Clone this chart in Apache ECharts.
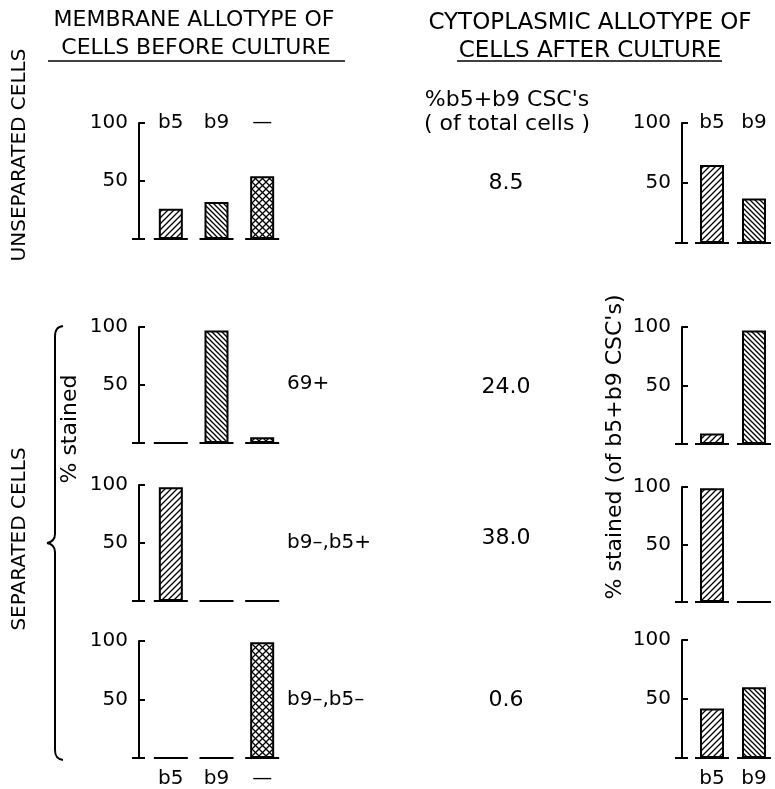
<!DOCTYPE html>
<html>
<head>
<meta charset="UTF-8">
<title>Membrane / cytoplasmic allotype</title>
<script src="https://cdn.jsdelivr.net/npm/echarts@6/dist/echarts.min.js"></script>
<style>
  body { margin: 0; background: #fff; }
  #main { width: 775px; height: 789px; }
</style>
</head>
<body>
<div id="main"></div>
<script>
// categories
var leftCats = ['b5', 'b9', '—'];
var rightCats = ['b5', 'b9'];
var rowNames = ['', '69+', 'b9–,b5+', 'b9–,b5–'];
var cscPercent = ['8.5', '24.0', '38.0', '0.6'];

// % stained, one value per row (unseparated, 69+, b9-b5+, b9-b5-)
var beforeB5 = [26, 0, 98, 0];
var beforeB9 = [32, 97, 0, 0];
var beforeNeg = [54, 5, 0, 99];
var afterB5 = [65, 9, 99, 42];
var afterB9 = [37, 97, 0, 60];

var yMax = 100;
var yStep = 50;

var FONT = '"DejaVu Sans", sans-serif';

// hatch fills
function hatch(size, kinds) {
    var c = document.createElement('canvas');
    c.width = size; c.height = size;
    var g = c.getContext('2d');
    g.fillStyle = '#fff';
    g.fillRect(0, 0, size, size);
    g.strokeStyle = '#000';
    g.lineWidth = 1.3;
    kinds.forEach(function (k) {
        g.beginPath();
        if (k === '/') {
            g.moveTo(0, size); g.lineTo(size, 0);
            g.moveTo(-1, 1); g.lineTo(1, -1);
            g.moveTo(size - 1, size + 1); g.lineTo(size + 1, size - 1);
        } else {
            g.moveTo(0, 0); g.lineTo(size, size);
            g.moveTo(size - 1, -1); g.lineTo(size + 1, 1);
            g.moveTo(-1, size - 1); g.lineTo(1, size + 1);
        }
        g.stroke();
    });
    return { image: c, repeat: 'repeat' };
}
var fills = [hatch(6, ['/']), hatch(5, ['\\']), hatch(7, ['/', '\\'])];

// panel layout (pixel rows for 100 and 0)
var rowTop = { left: [123, 327, 485, 641], right: [123, 327, 487, 640] };
var rowBase = { left: [239, 443, 601, 758], right: [243, 444, 602, 759] };
var colLeft = { left: 148, right: 691 };
var colWidth = { left: 137, right: 92 };
var axisOffset = 9;

var grids = [], xAxes = [], yAxes = [], series = [];

function addPanel(side, r, cats, values) {
    var i = grids.length;
    grids.push({
        left: colLeft[side], width: colWidth[side],
        top: rowTop[side][r], height: rowBase[side][r] - rowTop[side][r]
    });
    xAxes.push({
        type: 'category', gridIndex: i, data: cats,
        position: r === 0 ? 'top' : 'bottom',
        axisLine: { show: false }, axisTick: { show: false },
        axisLabel: {
            show: r === 0 || r === 3,
            margin: r === 0 ? 0 : 11,
            verticalAlign: r === 0 ? 'middle' : 'top',
            color: '#000', fontSize: 20, fontFamily: FONT
        }
    });
    yAxes.push({
        type: 'value', gridIndex: i, min: 0, max: yMax, interval: yStep,
        offset: axisOffset,
        axisLine: { show: true, lineStyle: { color: '#000', width: 2 } },
        axisTick: { show: true, inside: true, length: 6, lineStyle: { color: '#000', width: 2 } },
        splitLine: { show: false },
        axisLabel: { showMinLabel: false, margin: 11, color: '#000', fontSize: 20, fontFamily: FONT }
    });
    series.push({
        type: 'bar', xAxisIndex: i, yAxisIndex: i, barWidth: 24,
        itemStyle: { borderColor: '#000', borderWidth: 2 },
        data: values.map(function (v, k) {
            return { value: v, itemStyle: { color: fills[k] } };
        })
    });
    // broken baseline under each bar
    series.push({
        type: 'custom', xAxisIndex: i, yAxisIndex: i, z: 3,
        data: cats.map(function (c, k) { return [k, 0]; }),
        renderItem: function (params, api) {
            var p = api.coord([api.value(0), 0]);
            var st = { stroke: '#000', lineWidth: 2 };
            var kids = [{ type: 'line', shape: { x1: p[0] - 17, y1: p[1], x2: p[0] + 17, y2: p[1] }, style: st }];
            if (params.dataIndex === 0) {
                var ax = params.coordSys.x - axisOffset;
                kids.push({ type: 'line', shape: { x1: ax - 7, y1: p[1], x2: ax + 6, y2: p[1] }, style: st });
            }
            return { type: 'group', children: kids };
        }
    });
}

for (var r = 0; r < 4; r++) {
    addPanel('left', r, leftCats, [beforeB5[r], beforeB9[r], beforeNeg[r]]);
    addPanel('right', r, rightCats, [afterB5[r], afterB9[r]]);
}

function txt(s, x, y, size, opts) {
    opts = opts || {};
    return {
        type: 'text', x: x, y: y, rotation: opts.rot || 0,
        style: {
            text: s, fill: '#000', font: size + 'px ' + FONT,
            textAlign: opts.align || 'center', textVerticalAlign: 'middle'
        }
    };
}
var pen = { stroke: '#000', lineWidth: 2, fill: null };
function seg(x1, y1, x2, y2, w) {
    return { type: 'line', shape: { x1: x1, y1: y1, x2: x2, y2: y2 }, style: { stroke: '#000', lineWidth: w || 2 } };
}
function curve(x1, y1, c1x, c1y, c2x, c2y, x2, y2) {
    return {
        type: 'bezierCurve',
        shape: { x1: x1, y1: y1, cpx1: c1x, cpy1: c1y, cpx2: c2x, cpy2: c2y, x2: x2, y2: y2 },
        style: pen
    };
}

var cscY = [183, 387, 538, 700];
var nameY = [0, 384, 543, 700];
var graphics = [
    txt('MEMBRANE ALLOTYPE OF', 194, 20, 22),
    txt('CELLS BEFORE CULTURE', 196, 48, 22),
    seg(48, 61, 345, 61, 1.5),
    txt('CYTOPLASMIC ALLOTYPE OF', 590, 23, 23),
    txt('CELLS AFTER CULTURE', 590, 51, 23),
    seg(457, 61, 722, 61, 1.5),
    txt("%b5+b9 CSC's", 507, 100, 22),
    txt('( of total cells )', 507, 124, 22),
    txt('UNSEPARATED CELLS', 20, 155, 20, { rot: Math.PI / 2 }),
    txt('SEPARATED CELLS', 20, 539, 20, { rot: Math.PI / 2 }),
    txt('% stained', 70, 429, 22, { rot: Math.PI / 2 }),
    txt("% stained (of b5+b9 CSC's)", 615, 447, 22, { rot: Math.PI / 2 }),
    // brace
    curve(63, 326, 57, 327, 55, 330, 55, 337),
    seg(55, 337, 55, 534),
    curve(55, 534, 55, 540, 52, 542, 47, 543),
    curve(47, 543, 52, 544, 55, 546, 55, 552),
    seg(55, 552, 55, 750),
    curve(55, 750, 55, 756, 57, 759, 63, 760)
];
for (var k = 0; k < 4; k++) {
    graphics.push(txt(cscPercent[k], 506, cscY[k], 22));
    if (rowNames[k]) graphics.push(txt(rowNames[k], 287, nameY[k], 20, { align: 'left' }));
}

var chart = echarts.init(document.getElementById('main'));
chart.setOption({
    animation: false,
    backgroundColor: '#fff',
    grid: grids,
    xAxis: xAxes,
    yAxis: yAxes,
    series: series,
    graphic: graphics
});
</script>
</body>
</html>
